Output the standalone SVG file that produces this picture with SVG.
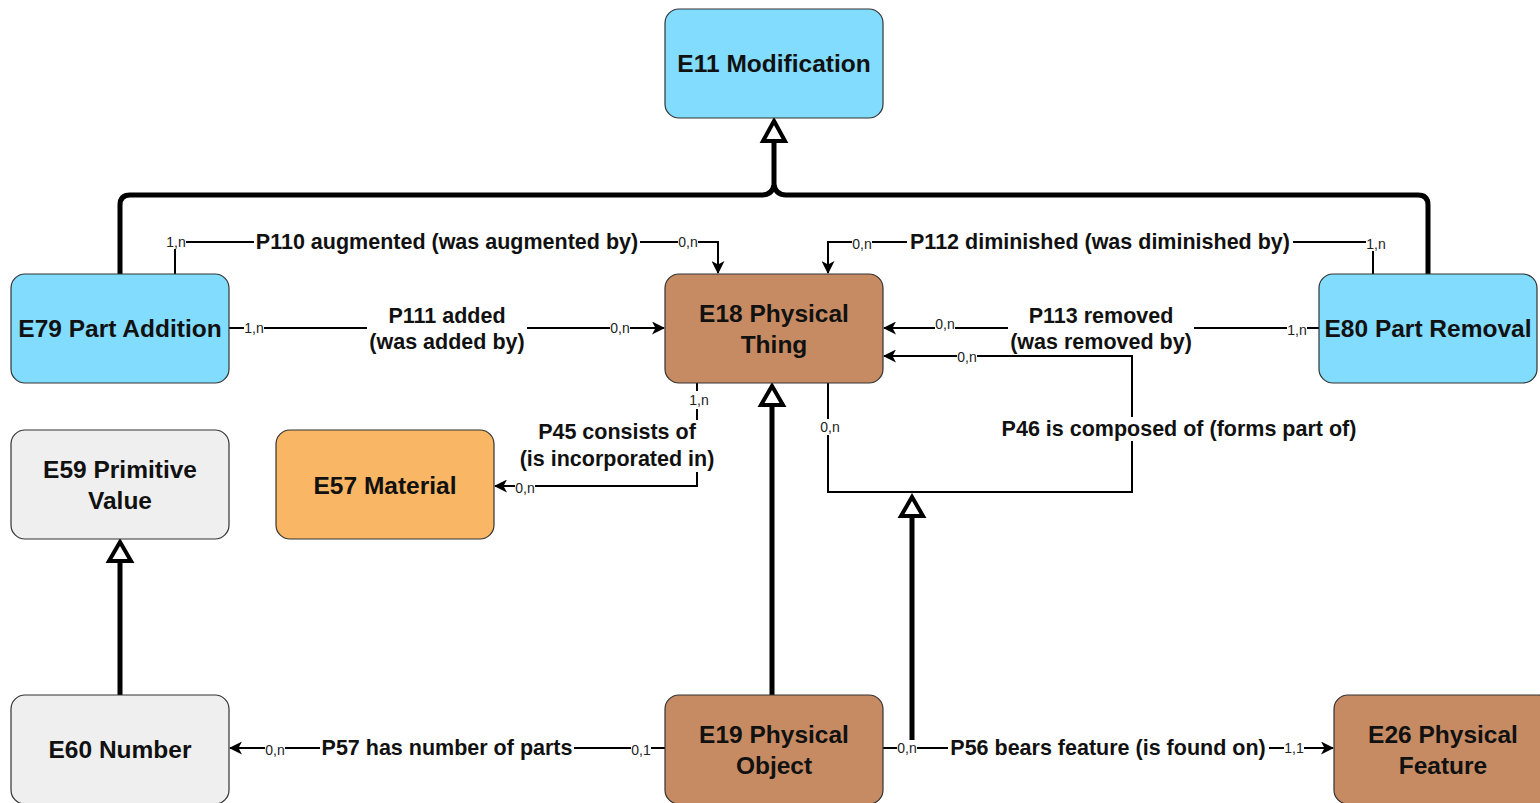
<svg xmlns="http://www.w3.org/2000/svg" width="1540" height="803" viewBox="0 0 1540 803">
  <style>
    .node rect { stroke: #333; stroke-width: 1.2; }
    .blue { fill: #81DCFE; }
    .brown { fill: #C68B63; }
    .orange { fill: #F9B664; }
    .grey { fill: #EFEFEF; }
    .ntext { font-family: "Liberation Sans", Arial, sans-serif; font-weight: bold; font-size: 24.5px; fill: #111; text-anchor: middle; dominant-baseline: central; }
    .rel { fill: none; stroke: #000; stroke-width: 2; }
    .isa { fill: none; stroke: #000; stroke-width: 5; stroke-linejoin: round; }
    .lbl { font-family: "Liberation Sans", Arial, sans-serif; font-weight: bold; font-size: 21.5px; fill: #111; text-anchor: middle; dominant-baseline: central; }
    .card { font-family: "Liberation Sans", Arial, sans-serif; font-size: 14px; fill: #222; text-anchor: middle; dominant-baseline: central; }
    .bg { fill: #fff; }
  </style>
  <defs>
    <marker id="arrow" viewBox="0 0 13 13" refX="12" refY="6.5" markerWidth="13" markerHeight="13" markerUnits="userSpaceOnUse" orient="auto">
      <path d="M0,0 L13,6.5 L0,13 L3.5,6.5 Z" fill="#000"/>
    </marker>
  </defs>
  <rect width="1540" height="803" fill="#fff"/>

  <g id="connectors">
    <!-- specialisation (is-a) links -->
    <path class="isa" d="M120,274 V205 Q120,195 130,195 H762 Q772,195 774,185 V140"/>
    <path class="isa" d="M1428,274 V205 Q1428,195 1418,195 H786 Q776,195 774,185"/>
    <polygon points="774,121 763,141 785,141" fill="#fff" stroke="#000" stroke-width="4"/>

    <path class="isa" d="M772,695 V404"/>
    <polygon points="772,386 761,405 783,405" fill="#fff" stroke="#000" stroke-width="4"/>

    <path class="isa" d="M912,740 V516"/>
    <polygon points="912,497 901,516 923,516" fill="#fff" stroke="#000" stroke-width="4"/>

    <path class="isa" d="M120,695 V561"/>
    <polygon points="120,542 109,561 131,561" fill="#fff" stroke="#000" stroke-width="4"/>

    <!-- properties -->
    <path class="rel" d="M175,274 V242 H718 V273" marker-end="url(#arrow)"/>
    <path class="rel" d="M1373,274 V242 H828 V273" marker-end="url(#arrow)"/>
    <path class="rel" d="M229,328 H664" marker-end="url(#arrow)"/>
    <path class="rel" d="M1319,328 H884" marker-end="url(#arrow)"/>
    <path class="rel" d="M828,383 V492 H1132 V356 H884" marker-end="url(#arrow)"/>
    <path class="rel" d="M697,383 V486 H495" marker-end="url(#arrow)"/>
    <path class="rel" d="M665,748 H230" marker-end="url(#arrow)"/>
    <path class="rel" d="M883,748 H1333" marker-end="url(#arrow)"/>

    <!-- label backgrounds -->
    <rect class="bg" x="254" y="232" width="386" height="21"/>
    <rect class="bg" x="907" y="232" width="386" height="21"/>
    <rect class="bg" x="367" y="303" width="160" height="52"/>
    <rect class="bg" x="1008" y="303" width="186" height="52"/>
    <rect class="bg" x="517" y="420" width="201" height="52"/>
    <rect class="bg" x="999" y="417" width="360" height="24"/>
    <rect class="bg" x="320" y="738" width="254" height="21"/>
    <rect class="bg" x="948" y="738" width="321" height="21"/>

    <rect class="bg" x="166" y="235" width="20" height="14"/>
    <rect class="bg" x="678" y="235" width="20" height="14"/>
    <rect class="bg" x="852" y="237" width="20" height="14"/>
    <rect class="bg" x="1366" y="237" width="20" height="14"/>
    <rect class="bg" x="244" y="321" width="20" height="14"/>
    <rect class="bg" x="610" y="321" width="20" height="14"/>
    <rect class="bg" x="935" y="317" width="20" height="14"/>
    <rect class="bg" x="1287" y="323" width="20" height="14"/>
    <rect class="bg" x="957" y="350" width="20" height="14"/>
    <rect class="bg" x="820" y="419" width="20" height="16"/>
    <rect class="bg" x="689" y="391" width="20" height="18"/>
    <rect class="bg" x="515" y="481" width="20" height="14"/>
    <rect class="bg" x="265" y="743" width="20" height="14"/>
    <rect class="bg" x="631" y="743" width="20" height="14"/>
    <rect class="bg" x="897" y="741" width="20" height="14"/>
    <rect class="bg" x="1284" y="741" width="20" height="14"/>

    <!-- property labels -->
    <text class="lbl" x="447" y="242">P110 augmented (was augmented by)</text>
    <text class="lbl" x="1100" y="242">P112 diminished (was diminished by)</text>
    <text class="lbl" x="447" y="316">P111 added</text>
    <text class="lbl" x="447" y="342">(was added by)</text>
    <text class="lbl" x="1101" y="316">P113 removed</text>
    <text class="lbl" x="1101" y="342">(was removed by)</text>
    <text class="lbl" x="617" y="432">P45 consists of</text>
    <text class="lbl" x="617" y="459">(is incorporated in)</text>
    <text class="lbl" x="1179" y="429">P46 is composed of (forms part of)</text>
    <text class="lbl" x="447" y="748">P57 has number of parts</text>
    <text class="lbl" x="1108" y="748">P56 bears feature (is found on)</text>

    <!-- cardinalities -->
    <text class="card" x="176" y="242">1,n</text>
    <text class="card" x="688" y="242">0,n</text>
    <text class="card" x="862" y="244">0,n</text>
    <text class="card" x="1376" y="244">1,n</text>
    <text class="card" x="254" y="328">1,n</text>
    <text class="card" x="620" y="328">0,n</text>
    <text class="card" x="945" y="324">0,n</text>
    <text class="card" x="1297" y="330">1,n</text>
    <text class="card" x="967" y="357">0,n</text>
    <text class="card" x="830" y="427">0,n</text>
    <text class="card" x="699" y="400">1,n</text>
    <text class="card" x="525" y="488">0,n</text>
    <text class="card" x="275" y="750">0,n</text>
    <text class="card" x="641" y="750">0,1</text>
    <text class="card" x="907" y="748">0,n</text>
    <text class="card" x="1294" y="748">1,1</text>
  </g>

  <g id="E11" class="node">
    <rect class="blue" x="665" y="9" width="218" height="109" rx="14"/>
    <text class="ntext" x="774" y="63">E11 Modification</text>
  </g>
  <g id="E79" class="node">
    <rect class="blue" x="11" y="274" width="218" height="109" rx="14"/>
    <text class="ntext" x="120" y="328">E79 Part Addition</text>
  </g>
  <g id="E18" class="node">
    <rect class="brown" x="665" y="274" width="218" height="109" rx="14"/>
    <text class="ntext" x="774" y="313">E18 Physical</text>
    <text class="ntext" x="774" y="344">Thing</text>
  </g>
  <g id="E80" class="node">
    <rect class="blue" x="1319" y="274" width="218" height="109" rx="14"/>
    <text class="ntext" x="1428" y="328">E80 Part Removal</text>
  </g>
  <g id="E59" class="node">
    <rect class="grey" x="11" y="430" width="218" height="109" rx="14"/>
    <text class="ntext" x="120" y="469">E59 Primitive</text>
    <text class="ntext" x="120" y="500">Value</text>
  </g>
  <g id="E57" class="node">
    <rect class="orange" x="276" y="430" width="218" height="109" rx="14"/>
    <text class="ntext" x="385" y="485">E57 Material</text>
  </g>
  <g id="E60" class="node">
    <rect class="grey" x="11" y="695" width="218" height="109" rx="14"/>
    <text class="ntext" x="120" y="749">E60 Number</text>
  </g>
  <g id="E19" class="node">
    <rect class="brown" x="665" y="695" width="218" height="109" rx="14"/>
    <text class="ntext" x="774" y="734">E19 Physical</text>
    <text class="ntext" x="774" y="765">Object</text>
  </g>
  <g id="E26" class="node">
    <rect class="brown" x="1334" y="695" width="218" height="109" rx="14"/>
    <text class="ntext" x="1443" y="734">E26 Physical</text>
    <text class="ntext" x="1443" y="765">Feature</text>
  </g>
</svg>
